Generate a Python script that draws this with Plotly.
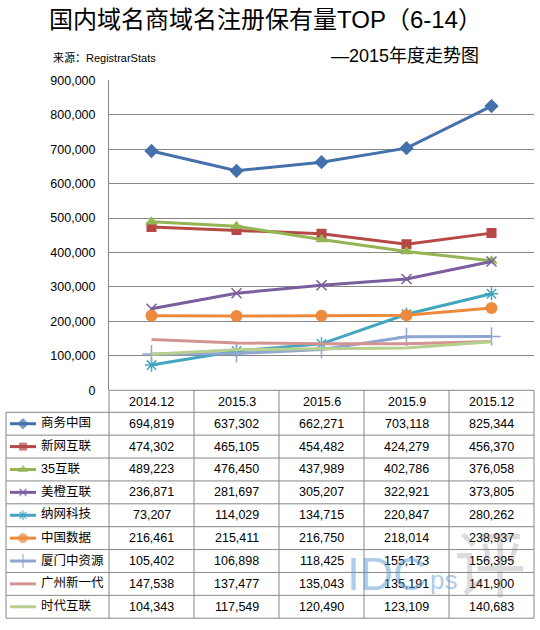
import plotly.graph_objects as go

# ---------------- data ----------------
categories = ["2014.12", "2015.3", "2015.6", "2015.9", "2015.12"]
series_names = ["商务中国", "新网互联", "35互联", "美橙互联", "纳网科技",
                "中国数据", "厦门中资源", "广州新一代", "时代互联"]
shangwu = [694819, 637302, 662271, 703118, 825344]
xinwang = [474302, 465105, 454482, 424279, 456370]
hulian35 = [489223, 476450, 437989, 402786, 376058]
meicheng = [236871, 281697, 305207, 322921, 373805]
nawang = [73207, 114029, 134715, 220847, 280262]
zhongguo = [216461, 215411, 216750, 218014, 238937]
xiamen = [105402, 106898, 118425, 155173, 156395]
guangzhou = [147538, 137477, 135043, 135191, 141900]
shidai = [104343, 117549, 120490, 123109, 140683]
values = [shangwu, xinwang, hulian35, meicheng, nawang, zhongguo, xiamen, guangzhou, shidai]
y_ticks = [0, 100000, 200000, 300000, 400000, 500000, 600000, 700000, 800000, 900000]

title_text = "国内域名商域名注册保有量TOP（6-14）"
source_text = "来源：RegistrarStats"
subtitle_text = "—2015年度走势图"

# ---------------- style ----------------
colors = ["#4470AC", "#B64845", "#93B553", "#7A5E9E", "#43A5C0",
          "#EE8A3E", "#8EA6D0", "#D39390", "#B7CF8E"]
markers = [
    dict(symbol="diamond", size=11),
    dict(symbol="square", size=10),
    dict(symbol="triangle-up", size=11),
    dict(symbol="x-thin", size=10, line=dict(width=1.5)),
    dict(symbol="asterisk", size=11, line=dict(width=1.5)),
    dict(symbol="circle", size=12),
    dict(symbol="cross-thin", size=13, line=dict(width=1.5)),
    None,
    None,
]
W, H = 540, 630
GRID = "#878787"
NUMFONT = "Liberation Sans, Arial, Noto Sans CJK SC"
CJKFONT = "Liberation Sans, Noto Sans CJK SC"

plot_left, plot_right = 109, 534
plot_top, plot_bottom = 75, 392
table_left = 6
col_w = (plot_right - plot_left) / len(categories)
header_bottom = 414.5
row_h = 23.4


def px(x):
    return x / W


def py(y):
    return 1 - y / H


fig = go.Figure()

for i, (name, vals) in enumerate(zip(series_names, values)):
    c = colors[i]
    m = markers[i]
    if m is None:
        mode = "lines"
        mk = None
    else:
        mode = "lines+markers"
        mk = dict(m)
        mk["color"] = c
        ln = dict(mk.get("line", {}))
        ln["color"] = c
        mk["line"] = ln
    fig.add_trace(go.Scatter(
        x=list(range(len(categories))), y=vals, name=name, mode=mode,
        line=dict(color=c, width=3), marker=mk, showlegend=False,
        xaxis="x", yaxis="y",
    ))

# legend keys inside the data table (overlay pixel axes)
for i, name in enumerate(series_names):
    c = colors[i]
    yc = header_bottom + row_h * (i + 0.5)
    m = markers[i]
    if m is None:
        fig.add_trace(go.Scatter(x=[10, 36], y=[yc, yc], mode="lines",
                                 line=dict(color=c, width=3), showlegend=False,
                                 xaxis="x2", yaxis="y2", hoverinfo="skip"))
    else:
        mk = dict(m)
        mk["color"] = c
        ln = dict(mk.get("line", {}))
        ln["color"] = c
        mk["line"] = ln
        mk["size"] = [0, max(m["size"] - 3, 6), 0]
        fig.add_trace(go.Scatter(x=[10, 23, 36], y=[yc, yc, yc], mode="lines+markers",
                                 line=dict(color=c, width=3), marker=mk, showlegend=False,
                                 xaxis="x2", yaxis="y2", hoverinfo="skip"))

shapes = []
line_style = dict(color=GRID, width=1)
# zero line / header row top
shapes.append(dict(type="line", xref="paper", yref="paper", x0=px(plot_left), x1=px(plot_right),
                   y0=py(plot_bottom), y1=py(plot_bottom), line=line_style))
# horizontal table lines
for k in range(len(series_names) + 1):
    yy = header_bottom + row_h * k
    shapes.append(dict(type="line", xref="paper", yref="paper", x0=px(table_left), x1=px(plot_right),
                       y0=py(yy), y1=py(yy), line=line_style))
table_bottom = header_bottom + row_h * len(series_names)
# vertical table lines
shapes.append(dict(type="line", xref="paper", yref="paper", x0=px(table_left), x1=px(table_left),
                   y0=py(header_bottom), y1=py(table_bottom), line=line_style))
for j in range(len(categories) + 1):
    xx = plot_left + col_w * j
    shapes.append(dict(type="line", xref="paper", yref="paper", x0=px(xx), x1=px(xx),
                       y0=py(plot_bottom), y1=py(table_bottom), line=line_style))

annotations = []
# header categories
for j, cat in enumerate(categories):
    annotations.append(dict(text=cat, xref="paper", yref="paper",
                            x=px(plot_left + col_w * (j + 0.5)), y=py((plot_bottom + header_bottom) / 2 + 1),
                            showarrow=False, xanchor="center", yanchor="middle",
                            font=dict(family=NUMFONT, size=12.5, color="#000000")))
# table rows
for i, (name, vals) in enumerate(zip(series_names, values)):
    yc = header_bottom + row_h * (i + 0.5)
    annotations.append(dict(text=name, xref="paper", yref="paper", x=px(39), y=py(yc - 1),
                            showarrow=False, xanchor="left", yanchor="middle",
                            font=dict(family=CJKFONT, size=12.5, color="#000000")))
    for j, v in enumerate(vals):
        annotations.append(dict(text=f"{v:,}", xref="paper", yref="paper",
                                x=px(plot_left + col_w * (j + 0.5)), y=py(yc),
                                showarrow=False, xanchor="center", yanchor="middle",
                                font=dict(family=NUMFONT, size=12.5, color="#000000")))

# titles
annotations.append(dict(text=title_text, xref="paper", yref="paper", x=px(265), y=py(13),
                        showarrow=False, xanchor="center", yanchor="middle",
                        font=dict(family=CJKFONT, size=24, color="#000000")))
annotations.append(dict(text=source_text, xref="paper", yref="paper", x=px(51), y=py(52),
                        showarrow=False, xanchor="left", yanchor="middle",
                        font=dict(family=CJKFONT, size=11, color="#000000")))
annotations.append(dict(text=subtitle_text, xref="paper", yref="paper", x=px(481), y=py(50),
                        showarrow=False, xanchor="right", yanchor="middle",
                        font=dict(family=CJKFONT, size=18, color="#000000")))

# watermark
annotations.append(dict(text="IDC", xref="paper", yref="paper", x=px(345), y=py(580),
                        showarrow=False, xanchor="left", yanchor="middle", opacity=0.5,
                        font=dict(family="Liberation Sans", size=46, color="#5B9BD5")))
annotations.append(dict(text="ps", xref="paper", yref="paper", x=px(428), y=py(586),
                        showarrow=False, xanchor="left", yanchor="middle", opacity=0.5,
                        font=dict(family="Liberation Sans", size=26, color="#5B9BD5")))
annotations.append(dict(text="评", xref="paper", yref="paper", x=px(490), y=py(565),
                        showarrow=False, xanchor="center", yanchor="middle", opacity=0.25,
                        font=dict(family="Noto Sans CJK SC", size=72, color="#777777")))

fig.update_layout(
    width=W, height=H,
    margin=dict(l=0, r=0, t=0, b=0),
    paper_bgcolor="white", plot_bgcolor="rgba(0,0,0,0)",
    showlegend=False,
    xaxis=dict(domain=[px(plot_left), px(plot_right)], range=[-0.5, len(categories) - 0.5],
               showgrid=False, zeroline=False, showticklabels=False, showline=False,
               anchor="y", fixedrange=True),
    yaxis=dict(domain=[py(plot_bottom), py(plot_top)], range=[0, 900000],
               tickvals=y_ticks, ticktext=[f"{v:,}" for v in y_ticks],
               showgrid=True, gridcolor=GRID, gridwidth=1, zeroline=False,
               showline=True, linecolor=GRID, linewidth=1, ticks="",
               ticklabelstandoff=10,
               tickfont=dict(family=NUMFONT, size=12.5, color="#000000"),
               anchor="x", fixedrange=True),
    xaxis2=dict(domain=[0, 1], range=[0, W], visible=False, anchor="y2", fixedrange=True),
    yaxis2=dict(domain=[0, 1], range=[H, 0], visible=False, anchor="x2", fixedrange=True),
    shapes=shapes,
    annotations=annotations,
)

fig.write_html("out.html", config={"displayModeBar": False},
               post_script="document.body.style.margin='0';document.body.style.overflow='hidden';")
